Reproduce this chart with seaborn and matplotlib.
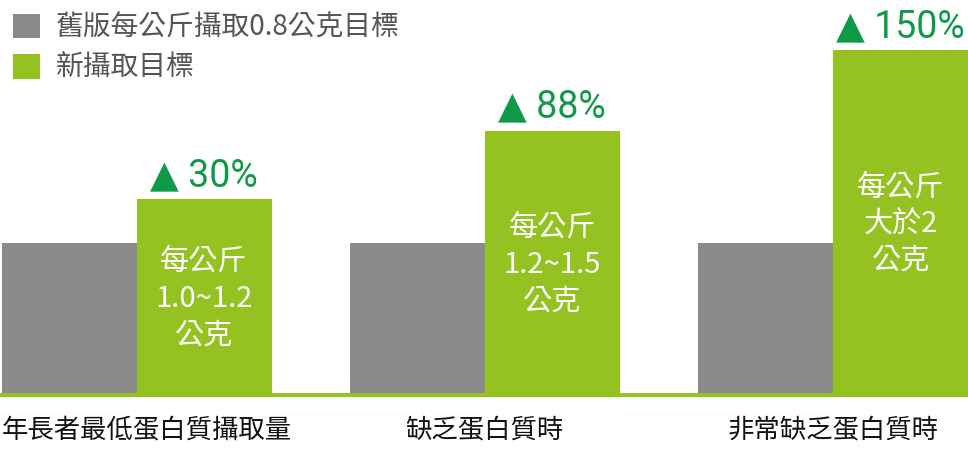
import numpy as np
import pandas as pd
import seaborn as sns
import matplotlib.pyplot as plt
import matplotlib.transforms as mtransforms
from matplotlib.patches import Patch

# data
categories = ['年長者最低蛋白質攝取量', '缺乏蛋白質時', '非常缺乏蛋白質時']
series = ['舊版每公斤攝取0.8公克目標', '新攝取目標']
old_target = [0.8, 0.8, 0.8]
new_target = [1.035, 1.40, 1.83]
bar_labels = ['每公斤\n1.0~1.2\n公克', '每公斤\n1.2~1.5\n公克', '每公斤\n大於2\n公克']
pct_labels = ['30%', '88%', '150%']

gray = '#8a8a8a'
green = '#93c221'
dark_green = '#0f9a48'

sns.set_theme(style='white')
plt.rcParams['font.family'] = ['Noto Sans CJK TC', 'DejaVu Sans']

df = pd.DataFrame({
    'cat': categories * 2,
    'series': [series[0]] * 3 + [series[1]] * 3,
    'val': old_target + new_target,
})

fig = plt.figure(figsize=(9.68, 4.75), dpi=100)
ax = fig.add_axes([0, 77 / 475, 1, 398 / 475])

sns.barplot(data=df, x='cat', y='val', hue='series', palette=[gray, green],
            width=0.775, dodge=True, saturation=1, ax=ax, legend=False,
            linewidth=0, edgecolor='none')

ax.set_xlim(-0.392, 2.387)
ax.set_ylim(-5 / 187.5, 393 / 187.5)
ax.axhline(-2.2 / 187.5, color=green, lw=2.9, zorder=5)
for s in ax.spines.values():
    s.set_visible(False)
ax.set_yticks([])
ax.set_xlabel('')
ax.set_ylabel('')
ax.tick_params(axis='x', length=0, pad=13, labelsize=19, labelcolor='#111111')
# first label is wider than the left margin, nudge it right
first = ax.get_xticklabels()[0]
first.set_transform(first.get_transform() + mtransforms.ScaledTranslation(10 / 100, 0, fig.dpi_scale_trans))

# labels on/above the green bars
for bar, txt, pct in zip(ax.containers[1], bar_labels, pct_labels):
    cx = bar.get_x() + bar.get_width() / 2
    h = bar.get_height()
    ax.text(cx, h / 2 - 0.015, txt, ha='center', va='center', color='white',
            fontsize=21, linespacing=1.3, fontweight='medium')
    ax.text(cx, h + 0.125, '▲ ' + pct, ha='center', va='center', color=dark_green,
            fontsize=27, family=['Roboto', 'DejaVu Sans'])

handles = [Patch(facecolor=gray, edgecolor='none'), Patch(facecolor=green, edgecolor='none')]
ax.legend(handles, series, loc='upper left', bbox_to_anchor=(0, 1.0), frameon=False,
          fontsize=20, labelcolor='#555555', handlelength=1.0, handleheight=1.0,
          handletextpad=0.55, labelspacing=0.38, borderpad=0.45, borderaxespad=0)

fig.savefig('out.png', dpi=100)
